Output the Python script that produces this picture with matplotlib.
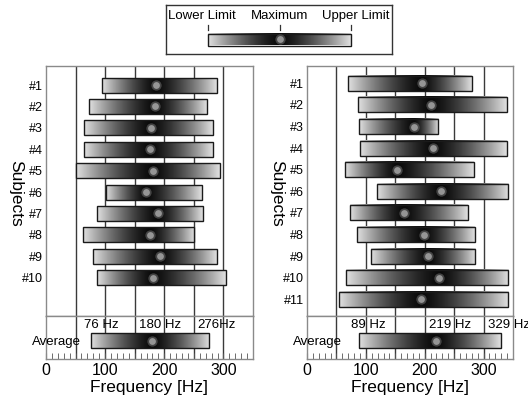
import numpy as np
import matplotlib
matplotlib.use('Agg')
import matplotlib.pyplot as plt
from matplotlib.patches import Rectangle
from matplotlib.ticker import MultipleLocator

plt.rcParams['font.family'] = 'Liberation Sans'

# per-subject frequency ranges [Hz]
left_lo = [95, 73, 65, 65, 51, 101, 87, 62, 80, 87]
left_max = [186, 185, 178, 176, 181, 169, 189, 176, 193, 181]
left_hi = [289, 272, 282, 282, 294, 263, 265, 251, 289, 305]
left_avg = [76, 180, 276]
left_avg_labels = ['76 Hz', '180 Hz', '276Hz']

right_lo = [70, 87, 88, 90, 64, 119, 73, 85, 108, 66, 54]
right_max = [195, 211, 181, 214, 153, 227, 164, 199, 206, 225, 194]
right_hi = [280, 340, 223, 339, 283, 342, 273, 285, 285, 342, 342]
right_avg = [89, 219, 329]
right_avg_labels = ['89 Hz', '219 Hz', '329 Hz']

grid_x = [50, 100, 150, 200, 250, 300]
legend_labels = ['Lower Limit', 'Maximum', 'Upper Limit']


def draw_range(ax, lo, mx, hi, yc, h):
    # gradient bar: light at the limits, dark towards the maximum
    xs = np.linspace(lo, hi, 400)
    t = np.where(xs <= mx, (xs - lo) / (mx - lo), (hi - xs) / (hi - mx))
    g = 0.04 + 0.84 * (1 - t) ** 1.4
    img = np.tile(g, (2, 1))
    ax.imshow(img, cmap='gray', vmin=0, vmax=1, extent=(lo, hi, yc + h / 2, yc - h / 2),
              aspect='auto', interpolation='bilinear', zorder=3)
    ax.add_patch(Rectangle((lo, yc - h / 2), hi - lo, h, fill=False, ec='#1a1a1a', lw=1.0, zorder=4))
    ax.scatter([mx], [yc], s=55, c='#7a7a7a', alpha=0.5, lw=0, zorder=5)
    ax.scatter([mx], [yc], s=24, c='#959595', lw=0, zorder=6)


fig = plt.figure(figsize=(5.28, 4.03), dpi=100)
W, H = 528, 403

panels = [
    (46, 207, left_lo, left_max, left_hi, left_avg, left_avg_labels, (11.79, 0.11), [-12, -22, -21]),
    (307, 206, right_lo, right_max, right_hi, right_avg, right_avg_labels, (11.77, 0.20), [-15, -11, -22]),
]

for x0, w, lo, mx, hi, avg, avg_lab, ylim, offs in panels:
    ax = fig.add_axes([x0 / W, 1 - 316 / H, w / W, 250 / H])
    axb = fig.add_axes([x0 / W, 1 - 359 / H, w / W, 43 / H], sharex=ax)

    n = len(lo)
    for i in range(n):
        draw_range(ax, lo[i], mx[i], hi[i], i + 1, 0.7)
    draw_range(axb, avg[0], avg[1], avg[2], 24.7, 15)

    for a in (ax, axb):
        for gx in grid_x:
            a.axvline(gx, color='#3a3a3a', lw=1.0, zorder=1)
        for s in a.spines.values():
            s.set_color('#8a8a8a')
            s.set_linewidth(1.0)

    ax.set_xlim(0, 350)
    ax.set_ylim(*ylim)
    ax.set_yticks(range(1, n + 1))
    ax.set_yticklabels(['#%d' % (i + 1) for i in range(n)], fontsize=9)
    ax.tick_params(axis='y', length=0, pad=2)
    ax.tick_params(axis='x', bottom=False, labelbottom=False)
    ax.text(-0.145, 0.49, 'Subjects', rotation=-90, transform=ax.transAxes,
            ha='center', va='center', fontsize=12.5)

    axb.set_ylim(43, 0)
    axb.set_yticks([])
    axb.xaxis.set_major_locator(MultipleLocator(100))
    axb.xaxis.set_minor_locator(MultipleLocator(10))
    axb.tick_params(axis='x', which='both', direction='in', length=4, color='#555555',
                    labelsize=11.5, pad=3)
    axb.set_xlabel('Frequency [Hz]', fontsize=12.5, labelpad=1)
    for v, lab, o in zip(avg, avg_lab, offs):
        axb.text(v + o, 9, lab, ha='left', va='center', fontsize=9.5, zorder=7)
    axb.text(59, 25.5, 'Average', ha='right', va='center', fontsize=9.5, zorder=7)

# legend box at the top
lg = fig.add_axes([166 / W, 1 - 54 / H, 226 / W, 49 / H])
leg_pos = [208, 279.5, 351]
draw_range(lg, leg_pos[0], leg_pos[1], leg_pos[2], 39.5, 12)
lg.set_xlim(166, 392)
lg.set_ylim(54, 5)
lg.set_xticks([])
lg.set_yticks([])
for s in lg.spines.values():
    s.set_color('#333333')
    s.set_linewidth(1.0)
for p in leg_pos:
    lg.plot([p, p], [25.5, 30], color='#333333', lw=0.9)
lg.text(168, 16, legend_labels[0], ha='left', va='center', fontsize=9.5)
lg.text(280, 16, legend_labels[1], ha='center', va='center', fontsize=9.5)
lg.text(322, 16, legend_labels[2], ha='left', va='center', fontsize=9.5)

fig.savefig('out.png', dpi=100)
